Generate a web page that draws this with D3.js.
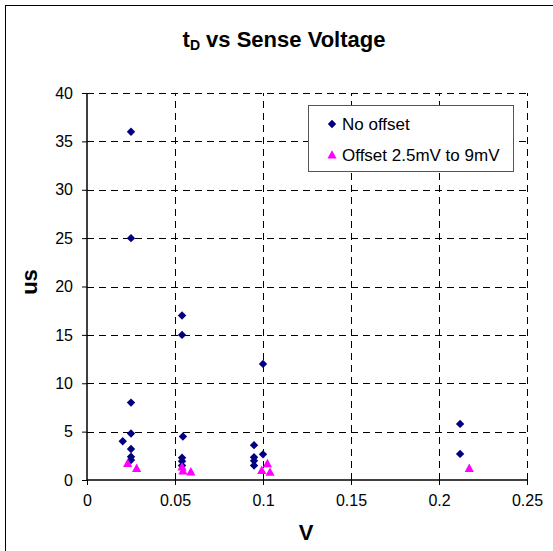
<!DOCTYPE html>
<html>
<head>
<meta charset="utf-8">
<script src="https://cdn.jsdelivr.net/npm/d3@7"></script>
<style>
  html, body { margin: 0; padding: 0; background: #fff; }
  svg { display: block; font-family: "Liberation Sans", Arial, sans-serif; }
</style>
</head>
<body>
<svg id="chart" width="553" height="551"></svg>
<script>
// ---- data ----
const noOffsetX = [0.025, 0.025, 0.025, 0.025, 0.0203, 0.025, 0.025, 0.025,
                   0.054, 0.054, 0.0545, 0.054, 0.054, 0.054,
                   0.1, 0.0949, 0.1, 0.0949, 0.0949, 0.0949,
                   0.212, 0.212];
const noOffsetY = [36, 25, 8, 4.8, 4.0, 3.2, 2.4, 2.07,
                   17, 15, 4.5, 2.3, 1.95, 1.5,
                   12, 3.6, 2.65, 2.35, 1.98, 1.5,
                   5.8, 2.7];
const offsetX = [0.0231, 0.0282, 0.054, 0.0545, 0.059, 0.0993, 0.1025, 0.104, 0.2172];
const offsetY = [1.72, 1.2, 1.35, 0.95, 0.85, 1.0, 1.7, 0.8, 1.2];
const xTicks = [0, 0.05, 0.1, 0.15, 0.2, 0.25];
const yTicks = [0, 5, 10, 15, 20, 25, 30, 35, 40];
const seriesNames = ["No offset", "Offset 2.5mV to 9mV"];

// ---- layout ----
const svg = d3.select("#chart");
const plot = { left: 87, right: 527, top: 93, bottom: 480 };

const x = d3.scaleLinear().domain([0, 0.25]).range([plot.left, plot.right]);
const y = d3.scaleLinear().domain([0, 40]).range([plot.bottom, plot.top]);

// outer chart border (cropped on right/bottom)
svg.append("rect")
  .attr("x", 5.5).attr("y", 5.5).attr("width", 560).attr("height", 560)
  .attr("fill", "none").attr("stroke", "#000").attr("stroke-width", 1);

// gridlines
const grid = svg.append("g").attr("stroke", "#000").attr("stroke-width", 1)
  .attr("stroke-dasharray", "7,5").attr("shape-rendering", "crispEdges");
grid.selectAll("line.h").data(yTicks.filter(d => d > 0)).join("line")
  .attr("x1", plot.left).attr("x2", plot.right)
  .attr("y1", d => Math.round(y(d)) + 0.5).attr("y2", d => Math.round(y(d)) + 0.5);
grid.selectAll("line.v").data(xTicks.filter(d => d > 0)).join("line")
  .attr("y1", plot.bottom).attr("y2", plot.top)
  .attr("x1", d => Math.round(x(d)) + 0.5).attr("x2", d => Math.round(x(d)) + 0.5);

// axes
const xAxis = d3.axisBottom(x).tickValues(xTicks).tickSize(5).tickPadding(10)
  .tickFormat(d => d3.format("")(+d.toFixed(2)));
const yAxis = d3.axisLeft(y).tickValues(yTicks).tickSize(5).tickPadding(9)
  .tickFormat(d3.format("d"));

const gx = svg.append("g").attr("transform", `translate(0,${plot.bottom})`).call(xAxis);
const gy = svg.append("g").attr("transform", `translate(${plot.left},0)`).call(yAxis);
[gx, gy].forEach(g => {
  g.select(".domain").attr("stroke", "#000").attr("stroke-width", 1.5);
  g.selectAll(".tick line").attr("stroke", "#000");
  g.selectAll(".tick text").attr("font-size", 16).attr("fill", "#000")
    .attr("font-family", "Liberation Sans, Arial, sans-serif");
});
gx.select(".domain").attr("d", `M${plot.left},0H${plot.right}`);
gy.select(".domain").attr("d", `M0,${plot.bottom}V${plot.top}`);

// title
const title = svg.append("text").attr("x", 284).attr("y", 47)
  .attr("text-anchor", "middle").attr("font-size", 22).attr("font-weight", "bold");
title.append("tspan").text("t");
title.append("tspan").attr("font-size", 14).attr("dy", 3).text("D");
title.append("tspan").attr("dy", -3).text(" vs Sense Voltage");

// axis titles
svg.append("text").attr("x", 306).attr("y", 540).attr("text-anchor", "middle")
  .attr("font-size", 22).attr("font-weight", "bold").text("V");
svg.append("text").attr("transform", "translate(37,282) rotate(-90)")
  .attr("text-anchor", "middle").attr("font-size", 22).attr("font-weight", "bold").text("us");

// markers
const diamond = () => "M0,-4.2L4.2,0L0,4.2L-4.2,0Z";
const triangle = () => "M0,-4.8L4.6,3.6L-4.6,3.6Z";

const pts1 = noOffsetX.map((v, i) => [v, noOffsetY[i]]);
const pts2 = offsetX.map((v, i) => [v, offsetY[i]]);

svg.append("g").selectAll("path").data(pts1).join("path")
  .attr("d", diamond)
  .attr("transform", d => `translate(${x(d[0])},${y(d[1])})`)
  .attr("fill", "#000080");
svg.append("g").selectAll("path").data(pts2).join("path")
  .attr("d", triangle)
  .attr("transform", d => `translate(${x(d[0])},${y(d[1])})`)
  .attr("fill", "#FF00FF");

// legend
const lg = svg.append("g");
lg.append("rect").attr("x", 308.5).attr("y", 105.5).attr("width", 205).attr("height", 66)
  .attr("fill", "#fff").attr("stroke", "#555").attr("stroke-width", 1);
lg.append("path").attr("d", diamond).attr("transform", "translate(332,124)").attr("fill", "#000080");
lg.append("path").attr("d", triangle).attr("transform", "translate(332,155)").attr("fill", "#FF00FF");
lg.append("text").attr("x", 342).attr("y", 130).attr("font-size", 17).text(seriesNames[0]);
lg.append("text").attr("x", 342).attr("y", 161).attr("font-size", 17).text(seriesNames[1]);
</script>
</body>
</html>
